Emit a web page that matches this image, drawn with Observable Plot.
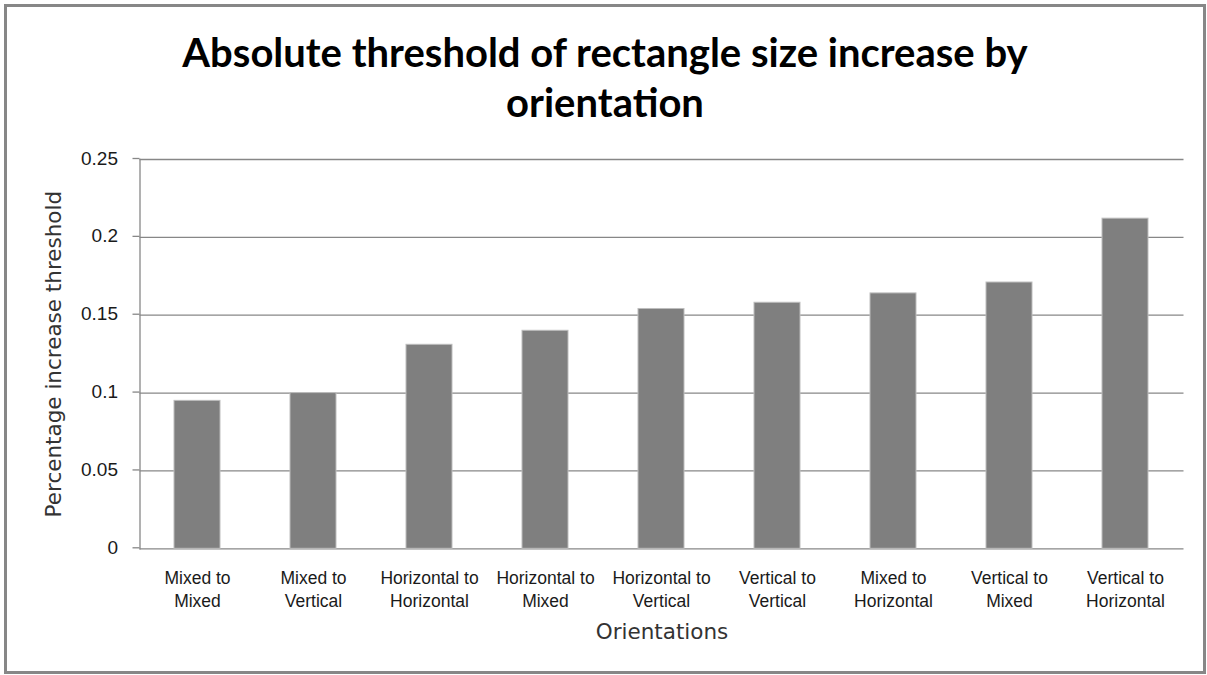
<!DOCTYPE html>
<html>
<head>
<meta charset="utf-8">
<script src="https://cdn.jsdelivr.net/npm/d3@7"></script>
<script src="https://cdn.jsdelivr.net/npm/@observablehq/plot@0.6"></script>
<style>
  html, body { margin: 0; padding: 0; background: #ffffff; }
  #wrap { position: relative; width: 1207px; height: 675px; background: #ffffff; overflow: hidden; }
  #title { height: 140px; box-sizing: border-box; padding-top: 27px; padding-left: 3px; text-align: center;
           font-family: Lato, "Open Sans", sans-serif; font-weight: 700; font-size: 40px;
           line-height: 50px; color: #000; }
  #frame { position: absolute; left: 4px; top: 4px; width: 1202px; height: 670px; box-sizing: border-box;
           border: 3px solid #878787; pointer-events: none; }
</style>
</head>
<body>
<div id="wrap">
  <div id="title">Absolute threshold of rectangle size increase by<br>orientation</div>
  <div id="chart"></div>
  <div id="frame"></div>
</div>
<script>
const categories = [
  "Mixed to Mixed",
  "Mixed to Vertical",
  "Horizontal to Horizontal",
  "Horizontal to Mixed",
  "Horizontal to Vertical",
  "Vertical to Vertical",
  "Mixed to Horizontal",
  "Vertical to Mixed",
  "Vertical to Horizontal"
];
const values = [0.095, 0.1, 0.131, 0.14, 0.154, 0.158, 0.164, 0.171, 0.212];
const yTicks = [0, 0.05, 0.1, 0.15, 0.2, 0.25];
const xTitle = "Orientations";
const yTitle = "Percentage increase threshold";

const data = categories.map((c, i) => ({cat: c, value: values[i]}));

const chart = Plot.plot({
  width: 1207,
  height: 535,
  marginLeft: 139.5,
  marginRight: 23.5,
  marginTop: 19,
  marginBottom: 126.7,
  style: {fontFamily: "'Liberation Sans', Arial, sans-serif", fontSize: "17.5px", color: "#1a1a1a", background: "transparent"},
  x: {domain: categories, paddingInner: 0.6, paddingOuter: 0.3, label: null},
  y: {domain: [0, 0.25], label: null},
  marks: [
    Plot.ruleY(yTicks, {stroke: "#878787", strokeWidth: 1.3}),
    Plot.frame({anchor: "left", stroke: "#878787", strokeWidth: 1.3}),
    Plot.barY(data, {x: "cat", y: "value", fill: "#7f7f7f", stroke: "#bdbdbd", strokeWidth: 1}),
    Plot.axisY({ticks: yTicks, tickSize: 7, tickPadding: 15, tickFormat: d => String(d),
                stroke: "#878787", strokeWidth: 1.3, fontSize: 19, dy: -1, label: null}),
    Plot.axisX({tickSize: 0, tickPadding: 18.5, tickFormat: d => d.replace(" to ", " to\n"),
                lineHeight: 1.314, fontSize: 17.5, label: null}),
    Plot.text([xTitle], {frameAnchor: "bottom", lineAnchor: "bottom", dy: 90,
                         fontFamily: "'DejaVu Sans', sans-serif", fontSize: 21.5, fill: "#333"}),
    Plot.text([yTitle], {frameAnchor: "left", textAnchor: "middle", rotate: -90, dx: -86,
                         fontFamily: "'DejaVu Sans', sans-serif", fontSize: 21.5, fill: "#333"})
  ]
});
document.getElementById("chart").appendChild(chart);
</script>
</body>
</html>
